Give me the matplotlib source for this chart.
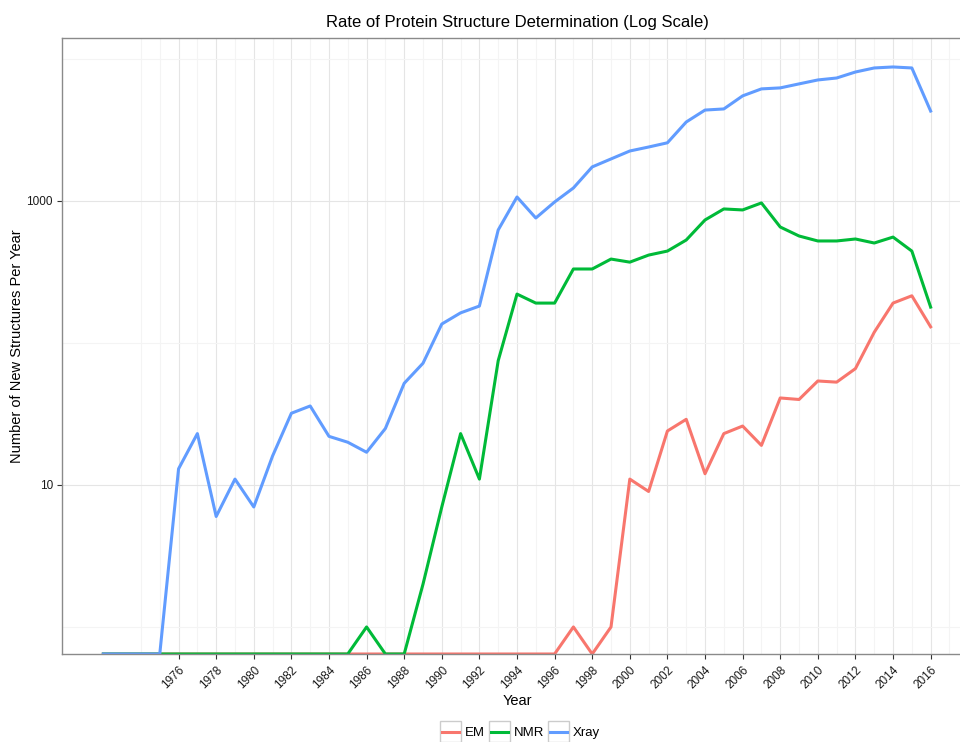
import numpy as np
import matplotlib
matplotlib.use("Agg")
import matplotlib.pyplot as plt
from matplotlib.ticker import FixedLocator, NullFormatter
from matplotlib.legend_handler import HandlerLine2D
from matplotlib.patches import Rectangle

plt.rcParams["font.family"] = ["Liberation Sans", "DejaVu Sans"]

years = list(range(1972, 2017))

# structures per year (0 = none that year)
em = [0] * 25 + [1, 0, 1, 11, 9, 24, 29, 12, 23, 26, 19, 41, 40, 54, 53,
                 66, 119, 191, 215, 130]
nmr = [0] * 14 + [1, 0, 0, 2, 7, 23, 11, 75, 221, 191, 191, 332, 332, 390,
                  371, 416, 444, 531, 735, 879, 865, 969, 656, 567, 523, 523,
                  540, 506, 557, 444, 179]
xray = [0, 0, 0, 0, 13, 23, 6, 11, 7, 16, 32, 36, 22, 20, 17, 25, 52, 72,
        136, 163, 182, 625, 1067, 759, 984, 1235, 1738, 1978, 2250, 2400,
        2570, 3600, 4370, 4450, 5500, 6160, 6260, 6680, 7120, 7350, 8100,
        8650, 8790, 8650, 4300]

series_names = ["EM", "NMR", "Xray"]
series_colors = ["#F8766D", "#00BA38", "#619CFF"]

year_ticks = list(range(1976, 2017, 2))
y_ticks = [10, 1000]

ylo, yhi = 0.645, 14060


class BoxedLine(HandlerLine2D):
    # legend key with a grey box round it, like ggplot keys
    def create_artists(self, legend, orig_handle, xdescent, ydescent,
                       width, height, fontsize, trans):
        arts = super().create_artists(legend, orig_handle, xdescent, ydescent,
                                      width, height, fontsize, trans)
        pad_x = 0.12 * width
        box_h = 1.55 * fontsize
        cy = height / 2 - ydescent
        box = Rectangle((-xdescent - pad_x, cy - box_h / 2), width + 2 * pad_x,
                        box_h, facecolor="white", edgecolor="#cccccc",
                        lw=1.0, transform=trans, zorder=0)
        return [box] + arts


fig = plt.figure(figsize=(9.6, 7.42), dpi=100)
ax = fig.add_axes([62 / 960, 88 / 742, 910 / 960, 616 / 742])

for name, vals, col in zip(series_names, [em, nmr, xray], series_colors):
    v = np.array(vals, dtype=float)
    v = np.where(v > 0, v, ylo)  # zero -> bottom edge, like log(0) in ggplot
    ax.plot(years, v, color=col, lw=2.2, label=name)

ax.set_yscale("log")
ax.set_ylim(ylo, yhi)
ax.set_xlim(1969.8, 2018.2)

ax.yaxis.set_major_locator(FixedLocator(y_ticks))
ax.yaxis.set_minor_locator(FixedLocator([1, 100, 10000]))
ax.yaxis.set_minor_formatter(NullFormatter())
ax.set_yticklabels([str(t) for t in y_ticks])

ax.xaxis.set_major_locator(FixedLocator(year_ticks))
minor_x = [y for y in range(1974, 2018) if y not in year_ticks]
ax.xaxis.set_minor_locator(FixedLocator(minor_x))
ax.set_xticklabels([str(t) for t in year_ticks], rotation=45, ha="right",
                   rotation_mode="anchor")

ax.grid(which="major", color="#e5e5e5", lw=0.8)
ax.grid(which="minor", color="#f4f4f4", lw=0.8)
ax.set_axisbelow(True)

ax.tick_params(which="major", length=3.5, width=0.8, color="#333333",
               labelsize=8.5, labelcolor="#1a1a1a", pad=3)
ax.tick_params(which="minor", length=0)
ax.tick_params(axis="x", pad=4)

for s in ax.spines.values():
    s.set_color("#8a8a8a")
    s.set_linewidth(1.0)

ax.set_title("Rate of Protein Structure Determination (Log Scale)",
             fontsize=12, pad=8)
ax.set_xlabel("Year", fontsize=10.5, labelpad=2)
ax.set_ylabel("Number of New Structures Per Year", fontsize=10.5, labelpad=2)

handles, labels = ax.get_legend_handles_labels()
fig.legend(handles, labels, loc="center",
           bbox_to_anchor=(521 / 960, 1 - 733 / 742), ncol=3,
           frameon=False, fontsize=9.5, handlelength=1.3, columnspacing=0.45,
           handletextpad=0.45,
           handler_map={h: BoxedLine() for h in handles})

fig.savefig("out.png", dpi=100)
